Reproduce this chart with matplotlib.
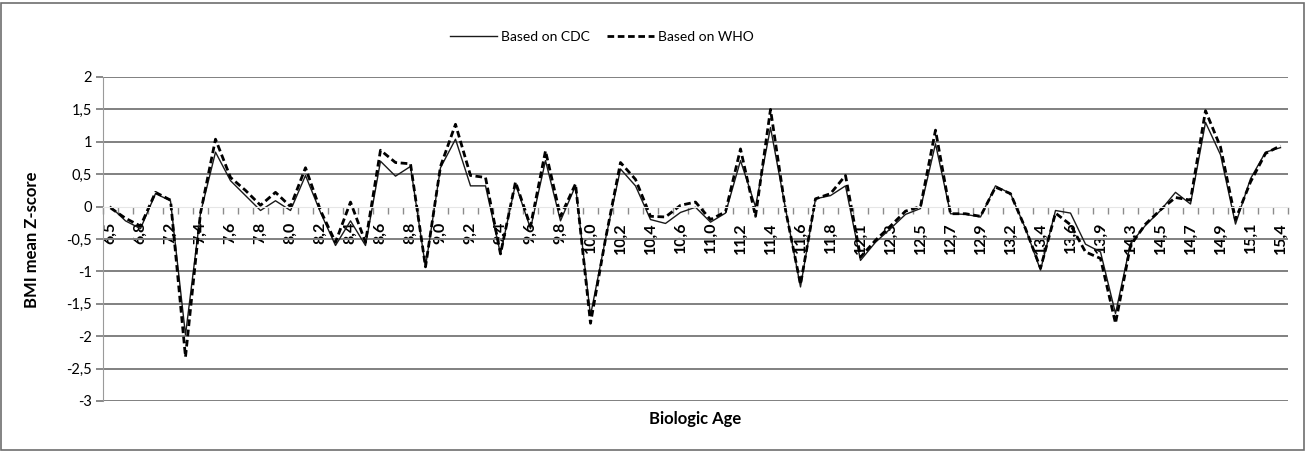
import matplotlib.pyplot as plt
from matplotlib.patches import Rectangle
from matplotlib.ticker import FixedLocator, FuncFormatter

# shown category labels (every second biologic age)
age_labels = ["6,5", "6,8", "7,2", "7,4", "7,6", "7,8", "8,0", "8,2", "8,4", "8,6",
              "8,8", "9,0", "9,2", "9,4", "9,6", "9,8", "10,0", "10,2", "10,4", "10,6",
              "11,0", "11,2", "11,4", "11,6", "11,8", "12,1", "12,3", "12,5", "12,7", "12,9",
              "13,2", "13,4", "13,6", "13,9", "14,3", "14,5", "14,7", "14,9", "15,1", "15,4"]

cdc = [0.0, -0.22, -0.34, 0.2, 0.09, -1.98, -0.1, 0.84, 0.4, 0.17,
       -0.06, 0.09, -0.06, 0.48, -0.09, -0.6, -0.22, -0.6, 0.7, 0.47,
       0.62, -0.93, 0.6, 1.04, 0.32, 0.32, -0.73, 0.35, -0.34, 0.71,
       -0.22, 0.32, -1.68, -0.5, 0.58, 0.32, -0.2, -0.26, -0.09, -0.01,
       -0.24, -0.1, 0.71, 0.0, 1.22, -0.03, -1.24, 0.12, 0.17, 0.32,
       -0.83, -0.55, -0.34, -0.12, -0.03, 0.97, -0.11, -0.12, -0.16, 0.32,
       0.2, -0.34, -0.98, -0.06, -0.1, -0.58, -0.7, -1.65, -0.57, -0.29,
       -0.06, 0.22, 0.04, 1.3, 0.8, -0.27, 0.43, 0.84, 0.91]

who = [-0.02, -0.18, -0.3, 0.22, 0.1, -2.32, -0.1, 1.04, 0.45, 0.25,
       0.02, 0.22, 0.0, 0.6, -0.06, -0.55, 0.07, -0.55, 0.87, 0.68,
       0.66, -0.93, 0.62, 1.27, 0.48, 0.45, -0.73, 0.38, -0.3, 0.86,
       -0.15, 0.35, -1.8, -0.5, 0.68, 0.42, -0.15, -0.16, 0.02, 0.07,
       -0.2, -0.08, 0.89, -0.15, 1.5, -0.05, -1.2, 0.12, 0.2, 0.48,
       -0.78, -0.52, -0.3, -0.07, 0.0, 1.18, -0.11, -0.11, -0.15, 0.3,
       0.2, -0.34, -0.95, -0.1, -0.28, -0.7, -0.8, -1.8, -0.6, -0.27,
       -0.05, 0.14, 0.1, 1.48, 0.92, -0.2, 0.38, 0.82, 0.94]

y_ticks = [2, 1.5, 1, 0.5, 0, -0.5, -1, -1.5, -2, -2.5, -3]

plt.rcParams["font.family"] = ["Lato", "DejaVu Sans"]

fig = plt.figure(figsize=(13.12, 4.51), dpi=100)
ax = fig.add_axes([103 / 1312, 1 - 401 / 451, 1185 / 1312, 324 / 451])

x = list(range(len(cdc)))
ax.plot(x, cdc, color="#1a1a1a", lw=1.0, label="Based on CDC")
ax.plot(x, who, color="black", lw=2.0, dashes=(2.4, 1.3), label="Based on WHO")

ax.set_xlim(-0.5, len(cdc) - 0.5)
ax.set_ylim(-3, 2)

# y axis
ax.set_yticks(y_ticks)
ax.yaxis.set_major_formatter(FuncFormatter(lambda v, p: f"{v:g}".replace(".", ",")))
ax.tick_params(axis="y", length=5, color="#808080", width=1.3, labelsize=10.5, pad=3)
ax.yaxis.grid(True, color="#808080", lw=1.4)
for gl, v in zip(ax.get_ygridlines(), y_ticks):
    if v == 0:
        gl.set_visible(False)
ax.set_axisbelow(True)

# x axis crossing at 0
ax.spines["bottom"].set_position(("data", 0))
ax.spines["bottom"].set_color("#e6e6e6")
ax.spines["top"].set_visible(False)
ax.spines["right"].set_visible(False)
ax.spines["left"].set_color("#9a9a9a")
ax.xaxis.set_major_locator(FixedLocator(list(range(0, len(cdc), 2))))
ax.set_xticklabels(age_labels, rotation=90, fontsize=11.5, fontweight="bold")
ax.xaxis.set_minor_locator(FixedLocator([i - 0.5 for i in range(len(cdc) + 1)]))
ax.tick_params(axis="x", which="major", length=0, pad=11)
ax.tick_params(axis="x", which="minor", length=5, color="#8c8c8c", width=1)
for lbl in ax.get_xticklabels():
    lbl.set_verticalalignment("top")

fig.text(32 / 1312, 1 - 240 / 451, "BMI mean Z-score", fontsize=12, fontweight="bold",
         rotation=90, ha="center", va="center")
fig.text(695 / 1312, 1 - 419 / 451, "Biologic Age", fontsize=12, fontweight="bold",
         ha="center", va="center")

ax.legend(loc="center", bbox_to_anchor=(602 / 1312, 1 - 37 / 451), bbox_transform=fig.transFigure,
          ncol=2, frameon=False, fontsize=10,
          handlelength=3.4, columnspacing=1.2, handletextpad=0.3)

fig.patches.append(Rectangle((1 / 1312, 1 / 451), 1303 / 1312, 447 / 451,
                             transform=fig.transFigure, fill=False, ec="#6e6e6e", lw=1.2))

fig.savefig("out.png", dpi=100)
